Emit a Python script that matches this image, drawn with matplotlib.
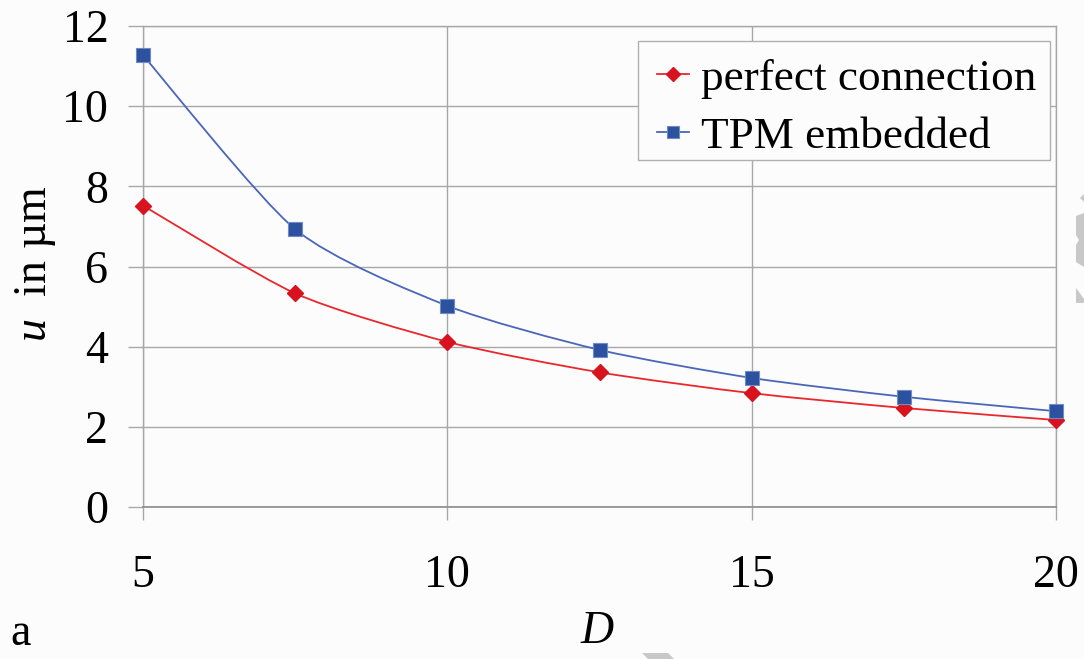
import numpy as np
import matplotlib
matplotlib.use("Agg")
import matplotlib.pyplot as plt
from matplotlib.path import Path
from matplotlib.patches import PathPatch, Polygon, Rectangle
from matplotlib.lines import Line2D

plt.rcParams['font.family'] = ['Liberation Serif', 'DejaVu Serif']
plt.rcParams['mathtext.fontset'] = 'custom'
plt.rcParams['mathtext.it'] = 'Liberation Serif:italic'
plt.rcParams['mathtext.rm'] = 'Liberation Serif'

# Data
D_values = [5, 7.5, 10, 12.5, 15, 17.5, 20]
u_perfect = [7.52, 5.33, 4.12, 3.36, 2.84, 2.47, 2.17]
u_tpm = [11.27, 6.93, 5.02, 3.92, 3.22, 2.75, 2.39]
series_labels = ['perfect connection', 'TPM embedded']
x_ticks = [5, 10, 15, 20]
y_ticks = [0, 2, 4, 6, 8, 10, 12]

W, H = 1084, 659
fig = plt.figure(figsize=(W / 100, H / 100), dpi=100, facecolor='#fcfcfc')
ax = fig.add_axes([143 / W, 1 - 507 / H, (1056 - 143) / W, (507 - 26) / H])
ax.set_facecolor('#fcfcfc')
ax.set_xlim(5, 20)
ax.set_ylim(0, 12)

grid_c = '#a8a8a8'
ax.set_xticks(x_ticks)
ax.set_yticks(y_ticks)
ax.grid(True, color=grid_c, linewidth=1.0)
ax.set_axisbelow(True)
for s in ['top', 'right', 'left']:
    ax.spines[s].set_color(grid_c)
    ax.spines[s].set_linewidth(1.0)
ax.spines['bottom'].set_color('#8a8a8a')
ax.spines['bottom'].set_linewidth(1.2)
ax.tick_params(axis='x', length=9.5, width=1.0, color=grid_c, pad=25,
               labelsize=33)
ax.tick_params(axis='y', length=11, width=1.0, color=grid_c, pad=14,
               labelsize=33)


def smooth_path(xs, ys, k=0.12):
    """Cardinal-spline cubic Bezier through the points."""
    pts = np.column_stack([xs, ys]).astype(float)
    n = len(pts)
    verts = [pts[0]]
    codes = [Path.MOVETO]
    for i in range(n - 1):
        p0 = pts[i - 1] if i > 0 else pts[i]
        p1 = pts[i]
        p2 = pts[i + 1]
        p3 = pts[i + 2] if i + 2 < n else pts[i + 1]
        c1 = p1 + (p2 - p0) * k
        c2 = p2 - (p3 - p1) * k
        verts += [c1, c2, p2]
        codes += [Path.CURVE4] * 3
    return Path(verts, codes)


red_line, red_mk = '#e8282c', '#d7131f'
blue_line, blue_mk = '#4a66b8', '#2b519f'

ax.add_patch(PathPatch(smooth_path(D_values, u_perfect), fill=False,
                       edgecolor=red_line, linewidth=1.3, zorder=3))
ax.add_patch(PathPatch(smooth_path(D_values, u_tpm), fill=False,
                       edgecolor=blue_line, linewidth=1.3, zorder=3))
ax.plot(D_values, u_perfect, linestyle='none', marker='D', markersize=8,
        markerfacecolor=red_mk, markeredgecolor=red_mk, zorder=4,
        clip_on=False)
ax.plot(D_values, u_tpm, linestyle='none', marker='s', markersize=10,
        markerfacecolor=blue_mk, markeredgecolor='#6f8ac6',
        markeredgewidth=0.8, zorder=4, clip_on=False)

# legend box
ax.add_patch(Rectangle((638 / W, 1 - 160 / H), (1050 - 638) / W, (160 - 41) / H,
                       transform=fig.transFigure, facecolor='#fcfcfc',
                       edgecolor='#b0b0b0', linewidth=1.0, zorder=5,
                       clip_on=False))
handles = [
    Line2D([], [], color=red_line, linewidth=1.3, marker='D', markersize=7,
           markerfacecolor=red_mk, markeredgecolor=red_mk),
    Line2D([], [], color=blue_line, linewidth=1.3, marker='s', markersize=9,
           markerfacecolor=blue_mk, markeredgecolor='#6f8ac6',
           markeredgewidth=0.8),
]
leg = ax.legend(handles, series_labels, loc='upper right',
                bbox_to_anchor=((1053 - 143) / (1056 - 143), (507 - 41) / (507 - 26)),
                prop={'size': 32.5}, frameon=False,
                handlelength=0.72, handletextpad=0.25, borderpad=0.38,
                labelspacing=0.39, borderaxespad=0)
leg.set_zorder(6)

fig.text(36 / W, 1 - 264 / H, r'$u$  in µm', rotation=90, fontsize=33,
         ha='center', va='center')
fig.text(597 / W, 1 - 632 / H, r'$D$', fontsize=33, ha='center', va='center')
fig.text(10 / W, 1 - 655 / H, 'a', fontsize=33, ha='left', va='bottom')

# faint watermark fragments along the page edges
wm = '#c8c8c8'
for poly in ([(642, 653), (668, 653), (674, 659), (648, 659)],
             [(1084, 194), (1080, 198), (1084, 202)],
             [(1076, 216), (1084, 213), (1084, 267), (1076, 262),
              (1076, 245), (1079, 240), (1076, 235)],
             [(1076, 288), (1084, 299), (1084, 303), (1076, 303)]):
    fig.patches.append(Polygon([(x / W, 1 - y / H) for x, y in poly],
                               closed=True, transform=fig.transFigure,
                               facecolor=wm, edgecolor='none', zorder=0))

fig.savefig('out.png', dpi=100, facecolor=fig.get_facecolor())
